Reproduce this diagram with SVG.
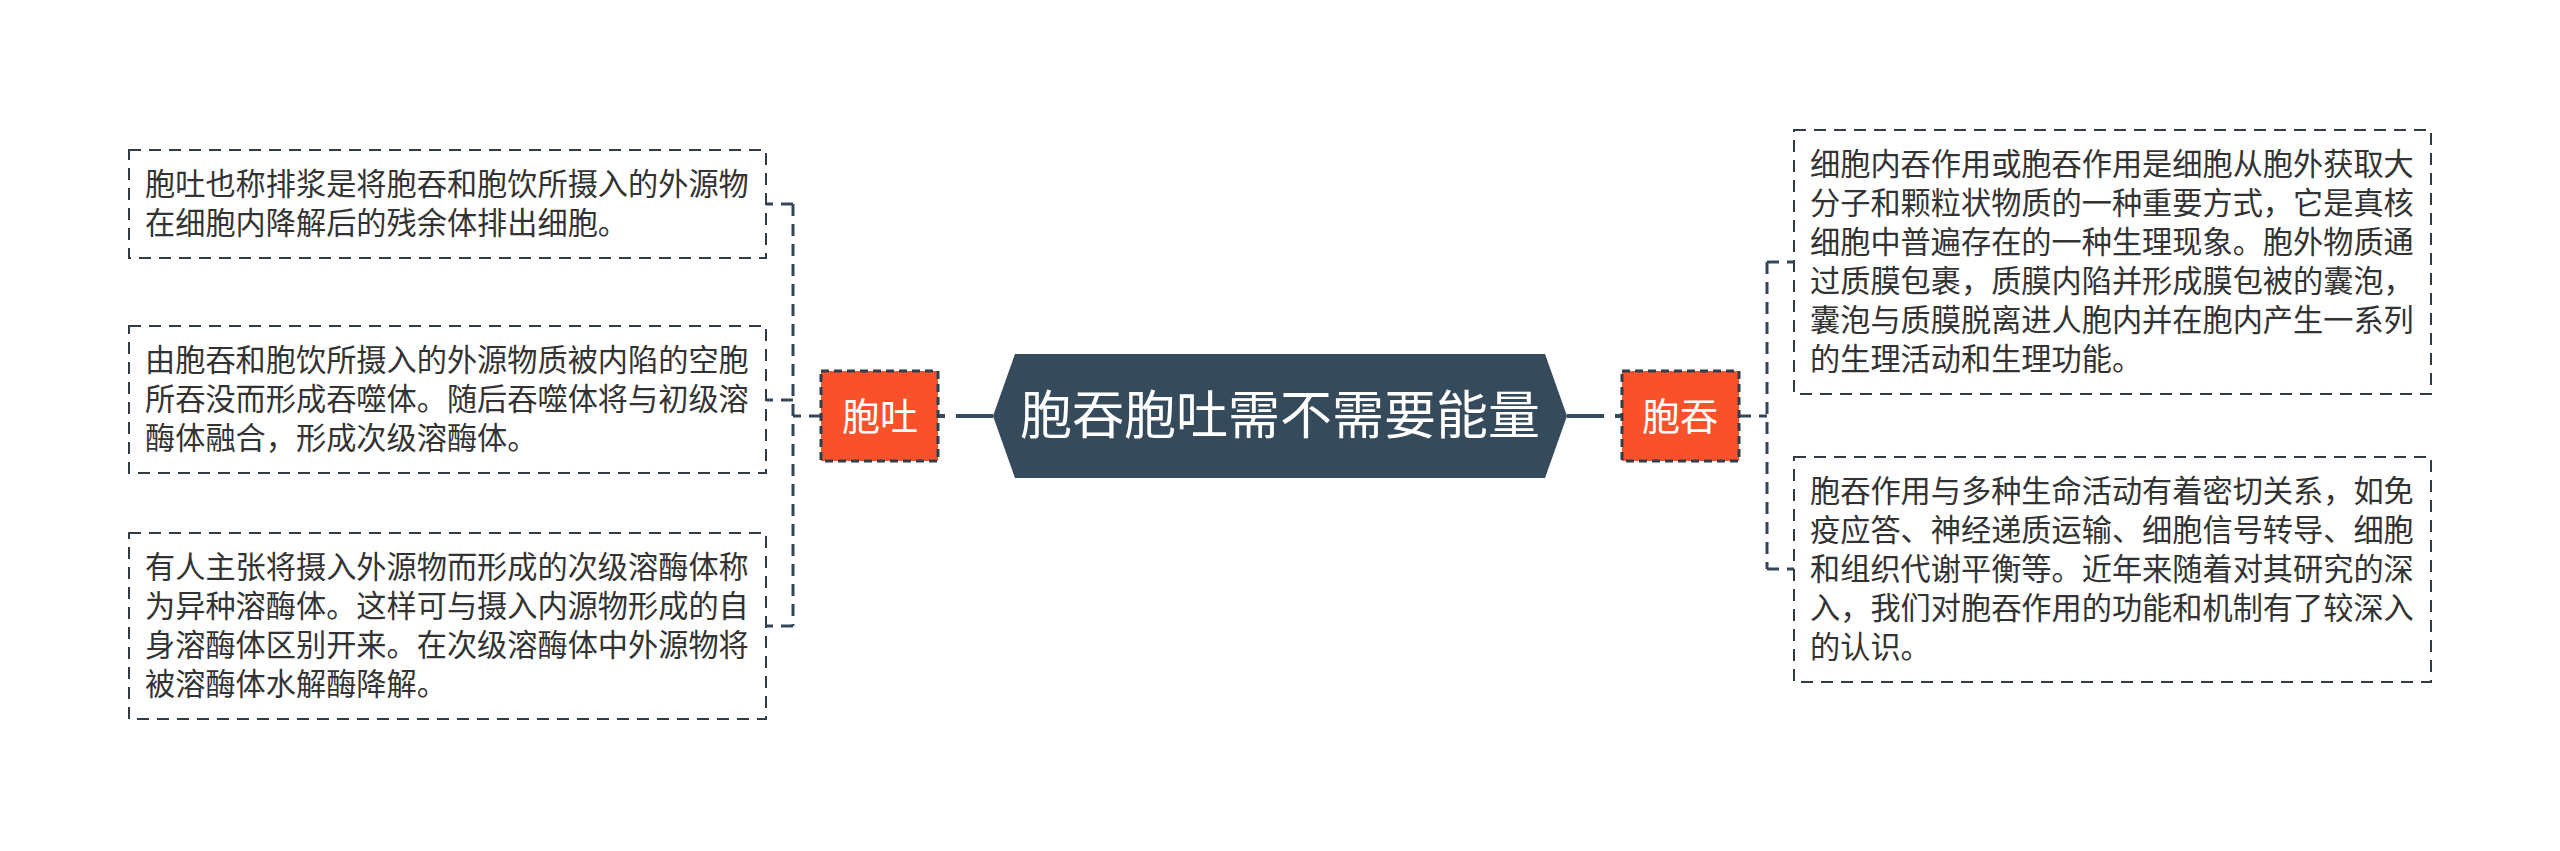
<svg xmlns="http://www.w3.org/2000/svg" width="2560" height="851" viewBox="0 0 2560 851">
<style>
.box{fill:#ffffff;stroke:#333b44;stroke-width:2;stroke-dasharray:12 8}
.txt{font-family:"Noto Sans CJK SC","Noto Sans",sans-serif;font-size:30.2px;fill:#333333}
.tag{fill:#f9522a;stroke:#2f3e4b;stroke-width:3;stroke-dasharray:8 5}
.tagt{font-family:"Noto Sans CJK SC","Noto Sans",sans-serif;font-size:38px;fill:#ffffff;text-anchor:middle}
.title{font-family:"Noto Sans CJK SC","Noto Sans",sans-serif;font-size:52px;fill:#ffffff;text-anchor:middle}
.con{fill:none;stroke:#34475a;stroke-width:3;stroke-dasharray:12 8}
.main{fill:none;stroke:#354a5b;stroke-width:4;stroke-dasharray:37 11}
</style>
<rect width="2560" height="851" fill="#ffffff"/>
<g id="connectors">
  <path class="main" d="M993 416 H938"/>
  <path class="main" d="M1567 416 H1622"/>
  <path class="con" d="M821 416 H793"/>
  <path class="con" d="M793 204 V626"/>
  <path class="con" d="M793 204 H766"/>
  <path class="con" d="M793 400 H766"/>
  <path class="con" d="M793 626 H766"/>
  <path class="con" d="M1739 416 H1767"/>
  <path class="con" d="M1767 262 V569"/>
  <path class="con" d="M1767 262 H1794"/>
  <path class="con" d="M1767 569 H1794"/>
</g>
<g id="center">
  <polygon points="1015,354 1545,354 1567,416 1545,478 1015,478 993,416" fill="#354a5b"/>
  <text class="title" x="1280" y="434">胞吞胞吐需不需要能量</text>
</g>
<g id="node-tuo">
  <rect class="tag" x="821" y="371" width="117" height="90"/>
  <text class="tagt" x="880" y="430">胞吐</text>
</g>
<g id="node-tun">
  <rect class="tag" x="1622" y="371" width="117" height="90"/>
  <text class="tagt" x="1680" y="430">胞吞</text>
</g>
<g id="box-l1">
  <rect class="box" x="129" y="150" width="637" height="108"/>
  <text class="txt"><tspan x="145" y="195">胞吐也称排浆是将胞吞和胞饮所摄入的外源物</tspan><tspan x="145" y="234">在细胞内降解后的残余体排出细胞。</tspan></text>
</g>
<g id="box-l2">
  <rect class="box" x="129" y="326" width="637" height="147"/>
  <text class="txt"><tspan x="145" y="371">由胞吞和胞饮所摄入的外源物质被内陷的空胞</tspan><tspan x="145" y="410">所吞没而形成吞噬体。随后吞噬体将与初级溶</tspan><tspan x="145" y="449">酶体融合，形成次级溶酶体。</tspan></text>
</g>
<g id="box-l3">
  <rect class="box" x="129" y="533" width="637" height="186"/>
  <text class="txt"><tspan x="145" y="578">有人主张将摄入外源物而形成的次级溶酶体称</tspan><tspan x="145" y="617">为异种溶酶体。这样可与摄入内源物形成的自</tspan><tspan x="145" y="656">身溶酶体区别开来。在次级溶酶体中外源物将</tspan><tspan x="145" y="695">被溶酶体水解酶降解。</tspan></text>
</g>
<g id="box-r1">
  <rect class="box" x="1794" y="130" width="637" height="264"/>
  <text class="txt"><tspan x="1810" y="175">细胞内吞作用或胞吞作用是细胞从胞外获取大</tspan><tspan x="1810" y="214">分子和颗粒状物质的一种重要方式，它是真核</tspan><tspan x="1810" y="253">细胞中普遍存在的一种生理现象。胞外物质通</tspan><tspan x="1810" y="292">过质膜包裹，质膜内陷并形成膜包被的囊泡，</tspan><tspan x="1810" y="331">囊泡与质膜脱离进人胞内并在胞内产生一系列</tspan><tspan x="1810" y="370">的生理活动和生理功能。</tspan></text>
</g>
<g id="box-r2">
  <rect class="box" x="1794" y="457" width="637" height="225"/>
  <text class="txt"><tspan x="1810" y="502">胞吞作用与多种生命活动有着密切关系，如免</tspan><tspan x="1810" y="541">疫应答、神经递质运输、细胞信号转导、细胞</tspan><tspan x="1810" y="580">和组织代谢平衡等。近年来随着对其研究的深</tspan><tspan x="1810" y="619">入，我们对胞吞作用的功能和机制有了较深入</tspan><tspan x="1810" y="658">的认识。</tspan></text>
</g>
</svg>
